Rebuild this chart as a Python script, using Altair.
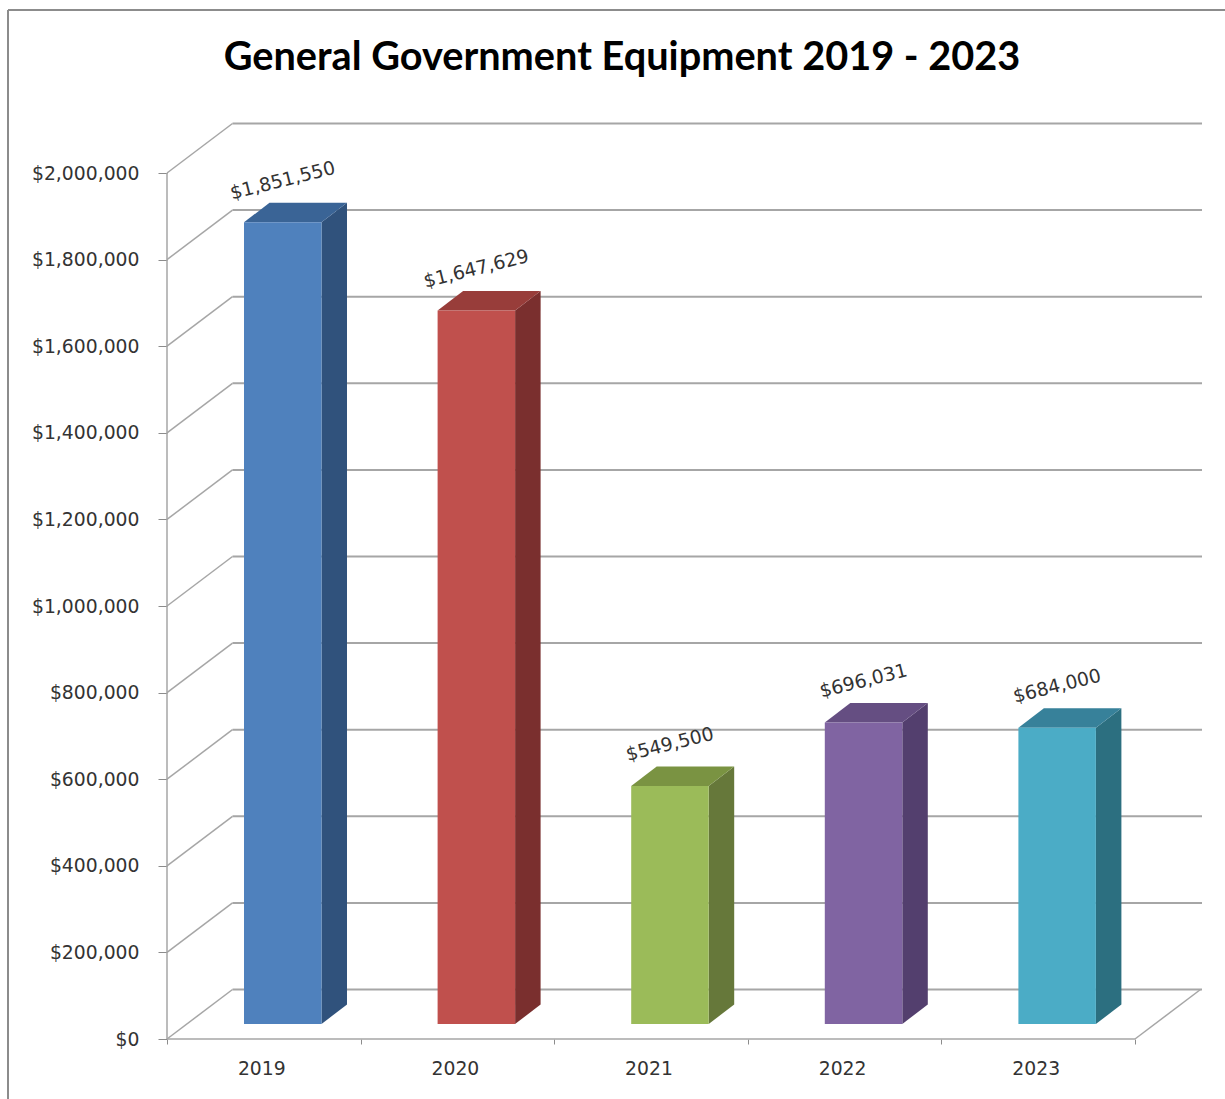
import altair as alt
import pandas as pd

# Chart values
years = ["2019", "2020", "2021", "2022", "2023"]
amounts = [1851550, 1647629, 549500, 696031, 684000]
front_colors = ["#4F81BD", "#C0504D", "#9BBB59", "#8064A2", "#4BACC6"]
top_colors = ["#3A6496", "#983D3A", "#7A9342", "#654E82", "#37819A"]
side_colors = ["#30527C", "#7A2F2E", "#66783A", "#533F6E", "#2C6F80"]
tick_values = list(range(0, 2000001, 200000))

# Pseudo-3D projection, expressed in axis units
DOLLARS_PER_PX = 200000 / 86.6
CATEGORY_PX = 193.6
WALL_DX = 65.5 / CATEGORY_PX
WALL_DY = 49.5 * DOLLARS_PER_PX
BAR_LEFT = 77 / CATEGORY_PX
BAR_WIDTH = 77.5 / CATEGORY_PX
BAR_Z0_DY = 15 * DOLLARS_PER_PX
BAR_DX = 25.5 / CATEGORY_PX
BAR_DY = 19.5 * DOLLARS_PER_PX
PLOT_W, PLOT_H = 1035, 916
TEXT_FONT = "DejaVu Sans"
TEXT_SIZE = 18.8
TEXT_COLOR = "#333333"
GRID = "#A6A6A6"
TICK = "#8C8C8C"

x_scale = alt.Scale(domain=[0, PLOT_W / CATEGORY_PX], nice=False, zero=False)
y_scale = alt.Scale(domain=[0, PLOT_H * DOLLARS_PER_PX], nice=False, zero=False)
x_axis = alt.Axis(values=list(range(6)), labels=False, domain=False, grid=False,
                  tickSize=5, tickColor=TICK, tickWidth=1, title=None)
y_axis = alt.Axis(values=tick_values, format="$,.0f", domain=False, grid=False,
                  tickSize=9, tickColor=TICK, tickWidth=1, labelPadding=19,
                  labelFont=TEXT_FONT, labelFontSize=TEXT_SIZE,
                  labelColor=TEXT_COLOR, title=None)


def X(field):
    return alt.X(f"{field}:Q", scale=x_scale, axis=x_axis)


def Y(field):
    return alt.Y(f"{field}:Q", scale=y_scale, axis=y_axis)


# Walls: back-wall gridlines and the diagonals down the left wall
wall = pd.DataFrame({"v": tick_values})
wall["x0"] = 0.0
wall["xb"] = WALL_DX
wall["xe"] = PLOT_W / CATEGORY_PX
wall["yb"] = wall["v"] + WALL_DY
back_lines = alt.Chart(wall).mark_rule(color=GRID, strokeWidth=2).encode(
    x=X("xb"), x2="xe:Q", y=Y("yb"))
diagonals = alt.Chart(wall).mark_rule(color=GRID, strokeWidth=1.5).encode(
    x=X("x0"), x2="xb:Q", y=Y("v"), y2="yb:Q")

# Floor edge, right floor edge and the front vertical
edges = pd.DataFrame({
    "x": [0.0, 0.0, 5.0], "xe": [5.0, 0.0, 5.0 + WALL_DX],
    "y": [0.0, 0.0, 0.0], "ye": [0.0, 2000000.0, WALL_DY],
})
edge_lines = alt.Chart(edges).mark_rule(color=GRID, strokeWidth=1.5).encode(
    x=X("x"), x2="xe:Q", y=Y("y"), y2="ye:Q")

# Bar faces
front_rows, face_rows, label_rows = [], [], []
for i, (year, value) in enumerate(zip(years, amounts)):
    x0 = i + BAR_LEFT
    x1 = x0 + BAR_WIDTH
    y0, yt = BAR_Z0_DY, value + BAR_Z0_DY
    front_rows.append(dict(x=x0, xe=x1, y=y0, ye=yt, shade=front_colors[i]))
    label_rows.append(dict(x=(x0 + x1) / 2, y=yt, text=f"${value:,.0f}"))
    for px, lo, hi in [(x1, y0, yt), (x1 + BAR_DX, y0 + BAR_DY, yt + BAR_DY)]:
        face_rows.append(dict(face=f"s{i}", x=px, lo=lo, hi=hi, shade=side_colors[i]))
    for px, lo, hi in [(x0, yt, yt), (x0 + BAR_DX, yt, yt + BAR_DY),
                       (x1, yt, yt + BAR_DY), (x1 + BAR_DX, yt + BAR_DY, yt + BAR_DY)]:
        face_rows.append(dict(face=f"t{i}", x=px, lo=lo, hi=hi, shade=top_colors[i]))

fronts = alt.Chart(pd.DataFrame(front_rows)).mark_rect().encode(
    x=X("x"), x2="xe:Q", y=Y("y"), y2="ye:Q",
    fill=alt.Fill("shade:N", scale=None))
faces = alt.Chart(pd.DataFrame(face_rows)).mark_area(
    interpolate="linear", orient="vertical").encode(
    x=X("x"), y=Y("lo"), y2="hi:Q", detail="face:N",
    fill=alt.Fill("shade:N", scale=None))

# Slanted value labels above each bar; the offset is applied along the rotated text
labels = alt.Chart(pd.DataFrame(label_rows)).mark_text(
    angle=346, font=TEXT_FONT, fontSize=TEXT_SIZE, color=TEXT_COLOR,
    baseline="middle", align="center", dx=10, dy=-40.5).encode(
    x=X("x"), y=Y("y"), text="text:N")

# Year labels below the floor
year_df = pd.DataFrame({"x": [i + 0.5 for i in range(5)], "year": years, "y": [0] * 5})
year_labels = alt.Chart(year_df).mark_text(
    font=TEXT_FONT, fontSize=TEXT_SIZE, color=TEXT_COLOR, baseline="middle",
    align="center", dx=-2, dy=30).encode(x=X("x"), y=Y("y"), text="year:N")

# Outer chart frame and heading
one = pd.DataFrame({"a": [0]})
frame_left = alt.Chart(one).mark_rule(color=TICK, strokeWidth=2).encode(
    x=alt.value(-159), y=alt.value(-113), y2=alt.value(PLOT_H + 60))
frame_top = alt.Chart(one).mark_rule(color=TICK, strokeWidth=2).encode(
    x=alt.value(-159), x2=alt.value(PLOT_W + 23), y=alt.value(-113))
heading = alt.Chart(one).mark_text(
    text="General Government Equipment 2019 - 2023", font="Lato", fontSize=39.7,
    fontWeight="bold", color="#000000", align="center", baseline="middle").encode(
    x=alt.value(622 - 167), y=alt.value(58 - 123))

chart = alt.layer(
    frame_left, frame_top, heading, back_lines, diagonals, edge_lines,
    faces, fronts, labels, year_labels,
).properties(
    width=PLOT_W,
    height=PLOT_H,
    padding={"left": 167, "top": 123, "right": 23, "bottom": 60},
    autosize=alt.AutoSizeParams(type="none"),
    background="white",
).configure_view(stroke=None)

chart.save("out.html", embed_options={"renderer": "svg", "actions": False})
